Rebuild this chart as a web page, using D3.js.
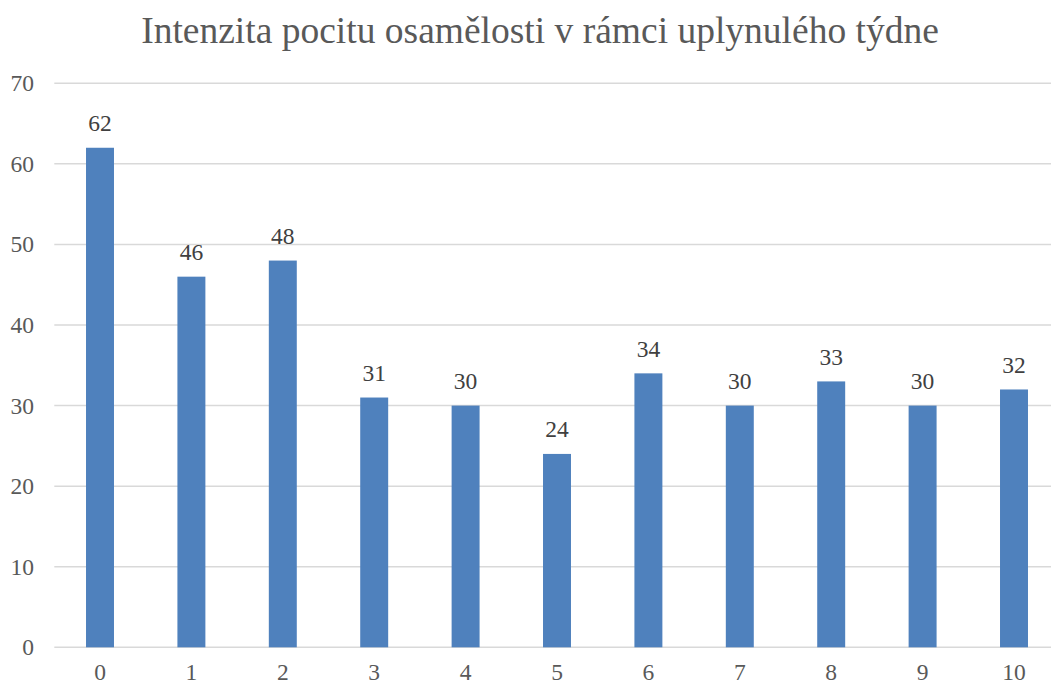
<!DOCTYPE html>
<html><head><meta charset="utf-8">
<script src="https://cdn.jsdelivr.net/npm/d3@7"></script>
<style>body{margin:0;background:#fff}svg{display:block}text{font-family:"Liberation Serif","Times New Roman",serif}</style>
</head><body>
<svg id="c" width="1051" height="684"></svg>
<script>
const categories = ["0","1","2","3","4","5","6","7","8","9","10"];
const values = [62,46,48,31,30,24,34,30,33,30,32];
const yTicks = [0,10,20,30,40,50,60,70];
const title = "Intenzita pocitu osamělosti v rámci uplynulého týdne";

(function(){
const svg = d3.select("#c");
const W = 1051, H = 684;
const pL = 54.3, pR = 1059.7, pT = 83.3, pB = 647.3;

const x = d3.scaleBand().domain(categories).range([pL, pR]).paddingInner(0.694).paddingOuter(0.347);
const y = d3.scaleLinear().domain([0,70]).range([pB, pT]);

svg.append("text").attr("x", 540).attr("y", 43).attr("text-anchor","middle")
  .attr("font-size", 37.5).attr("fill","#595959").text(title);

svg.append("g").selectAll("line").data(yTicks).join("line")
  .attr("x1", pL).attr("x2", W).attr("y1", d=>y(d)).attr("y2", d=>y(d))
  .attr("stroke","#d9d9d9").attr("stroke-width",1.5);

svg.append("g").selectAll("text").data(yTicks).join("text")
  .attr("x", 34).attr("y", d=>y(d)+8).attr("text-anchor","end")
  .attr("font-size", 23.5).attr("fill","#595959").text(d=>d);

svg.append("g").selectAll("rect").data(values).join("rect")
  .attr("x",(d,i)=>x(categories[i])).attr("width", x.bandwidth())
  .attr("y", d=>y(d)).attr("height", d=>y(0)-y(d)).attr("fill","#4f81bd");

svg.append("g").selectAll("text").data(values).join("text")
  .attr("x",(d,i)=>x(categories[i])+x.bandwidth()/2).attr("y", d=>y(d)-16.6)
  .attr("text-anchor","middle").attr("font-size", 23.5)
  .attr("fill","#404040").text(d=>d);

svg.append("g").selectAll("text").data(categories).join("text")
  .attr("x", d=>x(d)+x.bandwidth()/2).attr("y", 680)
  .attr("text-anchor","middle").attr("font-size", 23.5)
  .attr("fill","#595959").text(d=>d);
})();
</script>
</body></html>
